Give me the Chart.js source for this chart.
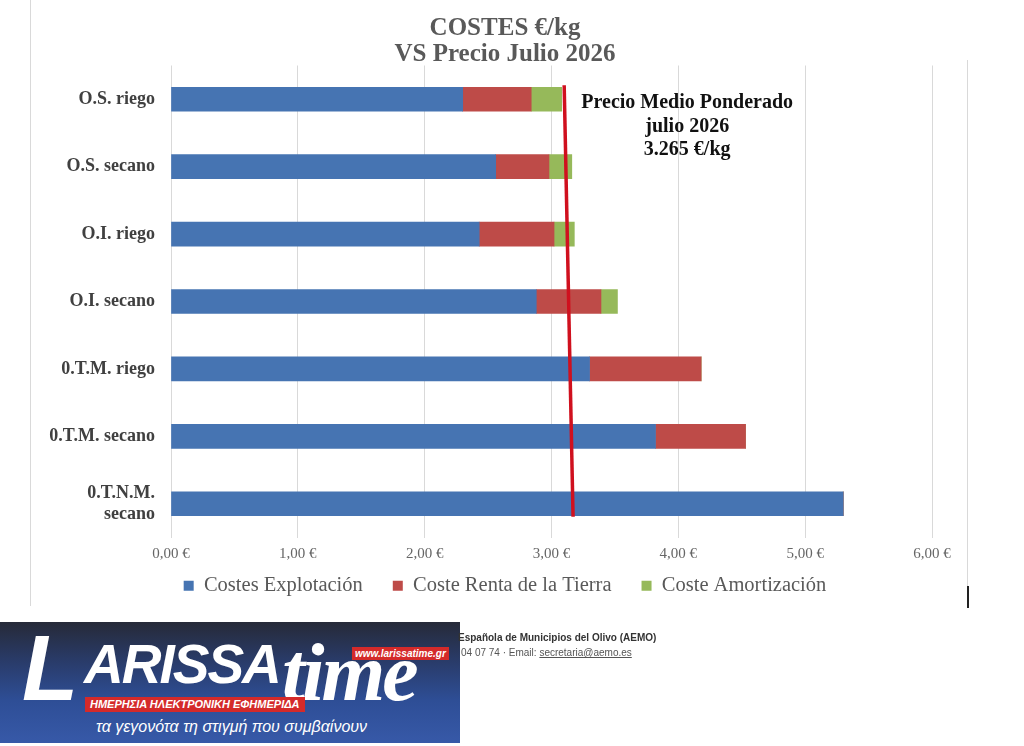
<!DOCTYPE html>
<html>
<head>
<meta charset="utf-8">
<script src="https://cdn.jsdelivr.net/npm/chart.js@4.4.1/dist/chart.umd.min.js"></script>
<style>
  html,body{margin:0;padding:0;background:#fff;width:1024px;height:746px;overflow:hidden;position:relative;}
  #wrap{position:absolute;left:0;top:0;width:1024px;height:632px;}
  .frameL{position:absolute;left:30px;top:0;width:1px;height:606px;background:#d9d9d9;}
  .frameR{position:absolute;left:967px;top:60px;width:1px;height:526px;background:#d9d9d9;}
  .frameRb{position:absolute;left:967px;top:586px;width:2px;height:22px;background:#222;}
  #logo{position:absolute;left:0;top:622px;width:460px;height:121px;
    background:linear-gradient(180deg,#262a38 0%,#293a66 30%,#2e4e96 65%,#3759a8 100%);overflow:hidden;}
  #logo .L{position:absolute;left:22px;top:0px;font-family:'Liberation Sans',sans-serif;font-style:italic;font-weight:bold;
    font-size:92px;color:#fff;line-height:92px;}
  #logo .big{position:absolute;left:84px;top:10px;font-family:'Liberation Sans',sans-serif;font-style:italic;font-weight:bold;
    font-size:55px;color:#fff;letter-spacing:-2px;}
  #logo .time{position:absolute;left:282px;top:4px;font-family:'Liberation Serif',serif;font-style:italic;font-weight:bold;font-size:82px;color:#fff;letter-spacing:-3px;}
  #logo .www{position:absolute;left:352px;top:25px;background:#d42a2a;color:#fff;font-family:'Liberation Sans',sans-serif;
    font-style:italic;font-weight:bold;font-size:10px;padding:1px 3px;line-height:11px;}
  #logo .gr{position:absolute;left:85px;top:75px;background:#d42a2a;color:#fff;font-family:'Liberation Sans',sans-serif;
    font-style:italic;font-weight:bold;font-size:11px;padding:1px 5px;line-height:13px;}
  #logo .slogan{position:absolute;left:96px;top:96px;color:#fff;font-family:'Liberation Sans',sans-serif;font-style:italic;font-size:16px;}
  .src{position:absolute;left:458px;font-family:'Liberation Sans',sans-serif;font-size:10px;color:#333;}
</style>
</head>
<body>
<div class="frameL"></div>
<div class="frameR"></div>
<div class="frameRb"></div>
<div id="wrap"><canvas id="c" width="1024" height="632"></canvas></div>
<div id="logo">
  <div class="L">L</div>
  <div class="big">ARISSA</div>
  <div class="time">time</div>
  <div class="www">www.larissatime.gr</div>
  <div class="gr">ΗΜΕΡΗΣΙΑ ΗΛΕΚΤΡΟΝΙΚΗ ΕΦΗΜΕΡΙΔΑ</div>
  <div class="slogan">τα γεγονότα τη στιγμή που συμβαίνουν</div>
</div>
<div class="src" style="top:632px;font-weight:bold;">Española de Municipios del Olivo (AEMO)</div>
<div class="src" style="top:647px;left:461px;color:#555;">04 07 74 · Email: <u>secretaria@aemo.es</u></div>
<script>
const titleLines = ['COSTES €/kg', 'VS Precio Julio 2026'];
const categories = ['O.S. riego', 'O.S. secano', 'O.I. riego', 'O.I. secano', '0.T.M. riego', '0.T.M. secano', ['0.T.N.M.', 'secano']];
const seriesNames = ['Costes Explotación', 'Coste Renta de la Tierra', 'Coste Amortización'];
const costesExplotacion = [2.30, 2.56, 2.43, 2.88, 3.30, 3.82, 5.30];
const costeRenta = [0.54, 0.42, 0.59, 0.51, 0.88, 0.71, 0];
const costeAmortizacion = [0.24, 0.18, 0.16, 0.13, 0, 0, 0];
const xTicks = [0, 1, 2, 3, 4, 5, 6];
const priceLine = [3.10, 3.17];       // red line: value at top, value at bottom
const annotationLines = ['Precio Medio Ponderado', 'julio 2026', '3.265 €/kg'];
const annotationAt = 4.07;            // x value of annotation centre

const colors = ['#4674B2', '#BE4B48', '#96B95A'];

const priceLinePlugin = {
  id: 'priceLine',
  afterDatasetsDraw(chart) {
    const ctx = chart.ctx, xs = chart.scales.x, ys = chart.scales.y;
    const yTop = ys.getPixelForValue(0) - 14;
    const yBot = ys.getPixelForValue(categories.length - 1) + 13;
    ctx.save();
    ctx.strokeStyle = '#D0101E';
    ctx.lineWidth = 3.5;
    ctx.beginPath();
    ctx.moveTo(xs.getPixelForValue(priceLine[0]), yTop);
    ctx.lineTo(xs.getPixelForValue(priceLine[1]), yBot);
    ctx.stroke();
    ctx.fillStyle = '#111';
    ctx.font = 'bold 20px "Liberation Serif", serif';
    ctx.textAlign = 'center';
    ctx.textBaseline = 'middle';
    const cx = xs.getPixelForValue(annotationAt);
    const y0 = ys.getPixelForValue(0) + 4;
    annotationLines.forEach((t, i) => ctx.fillText(t, cx, y0 + i * 23.5));
    ctx.restore();
  }
};

// move the legend closer to the x axis (reference has a tight gap)
const legendShift = {
  id: 'legendShift',
  afterLayout(chart) {
    const lg = chart.legend;
    if (lg) { lg.top -= 26; lg.bottom -= 26; }
  }
};

new Chart(document.getElementById('c'), {
  type: 'bar',
  data: {
    labels: categories,
    datasets: [
      { label: seriesNames[0], data: costesExplotacion, backgroundColor: colors[0] },
      { label: seriesNames[1], data: costeRenta, backgroundColor: colors[1] },
      { label: seriesNames[2], data: costeAmortizacion, backgroundColor: colors[2] }
    ]
  },
  options: {
    indexAxis: 'y',
    responsive: false,
    animation: false,
    devicePixelRatio: 1,
    datasets: { bar: { barThickness: 24 } },
    layout: { padding: { left: 0, right: 14, top: 0, bottom: 0 } },
    scales: {
      x: {
        stacked: true, min: 0, max: 6,
        afterBuildTicks: s => { s.ticks = xTicks.map(v => ({ value: v })); },
        ticks: {
          color: '#666666', padding: 8,
          font: { family: 'Liberation Serif', size: 15 },
          callback: v => v.toFixed(2).replace('.', ',') + ' €'
        },
        grid: { color: '#D9D9D9', lineWidth: 1, drawTicks: false },
        border: { display: false }
      },
      y: {
        stacked: true,
        afterFit: s => { s.width = 171; },
        ticks: {
          color: '#404040', padding: 16,
          font: { family: 'Liberation Serif', size: 18, weight: 'bold', lineHeight: 1.2 }
        },
        grid: { display: false, drawTicks: false },
        border: { display: false }
      },
      y2: {
        type: 'linear', position: 'right', display: true,
        afterFit: s => { s.width = 78; },
        ticks: { display: false },
        grid: { display: false, drawTicks: false },
        border: { display: false }
      }
    },
    plugins: {
      title: {
        display: true, text: titleLines, color: '#595959',
        font: { family: 'Liberation Serif', size: 25, weight: 'bold', lineHeight: 1.05 },
        padding: { top: 15, bottom: -2 }
      },
      legend: {
        position: 'bottom',
        labels: {
          color: '#595959', boxWidth: 10, boxHeight: 10, padding: 30,
          font: { family: 'Liberation Serif', size: 20.5 }
        }
      },
      tooltip: { enabled: false }
    }
  },
  plugins: [priceLinePlugin, legendShift]
});
</script>
</body>
</html>
